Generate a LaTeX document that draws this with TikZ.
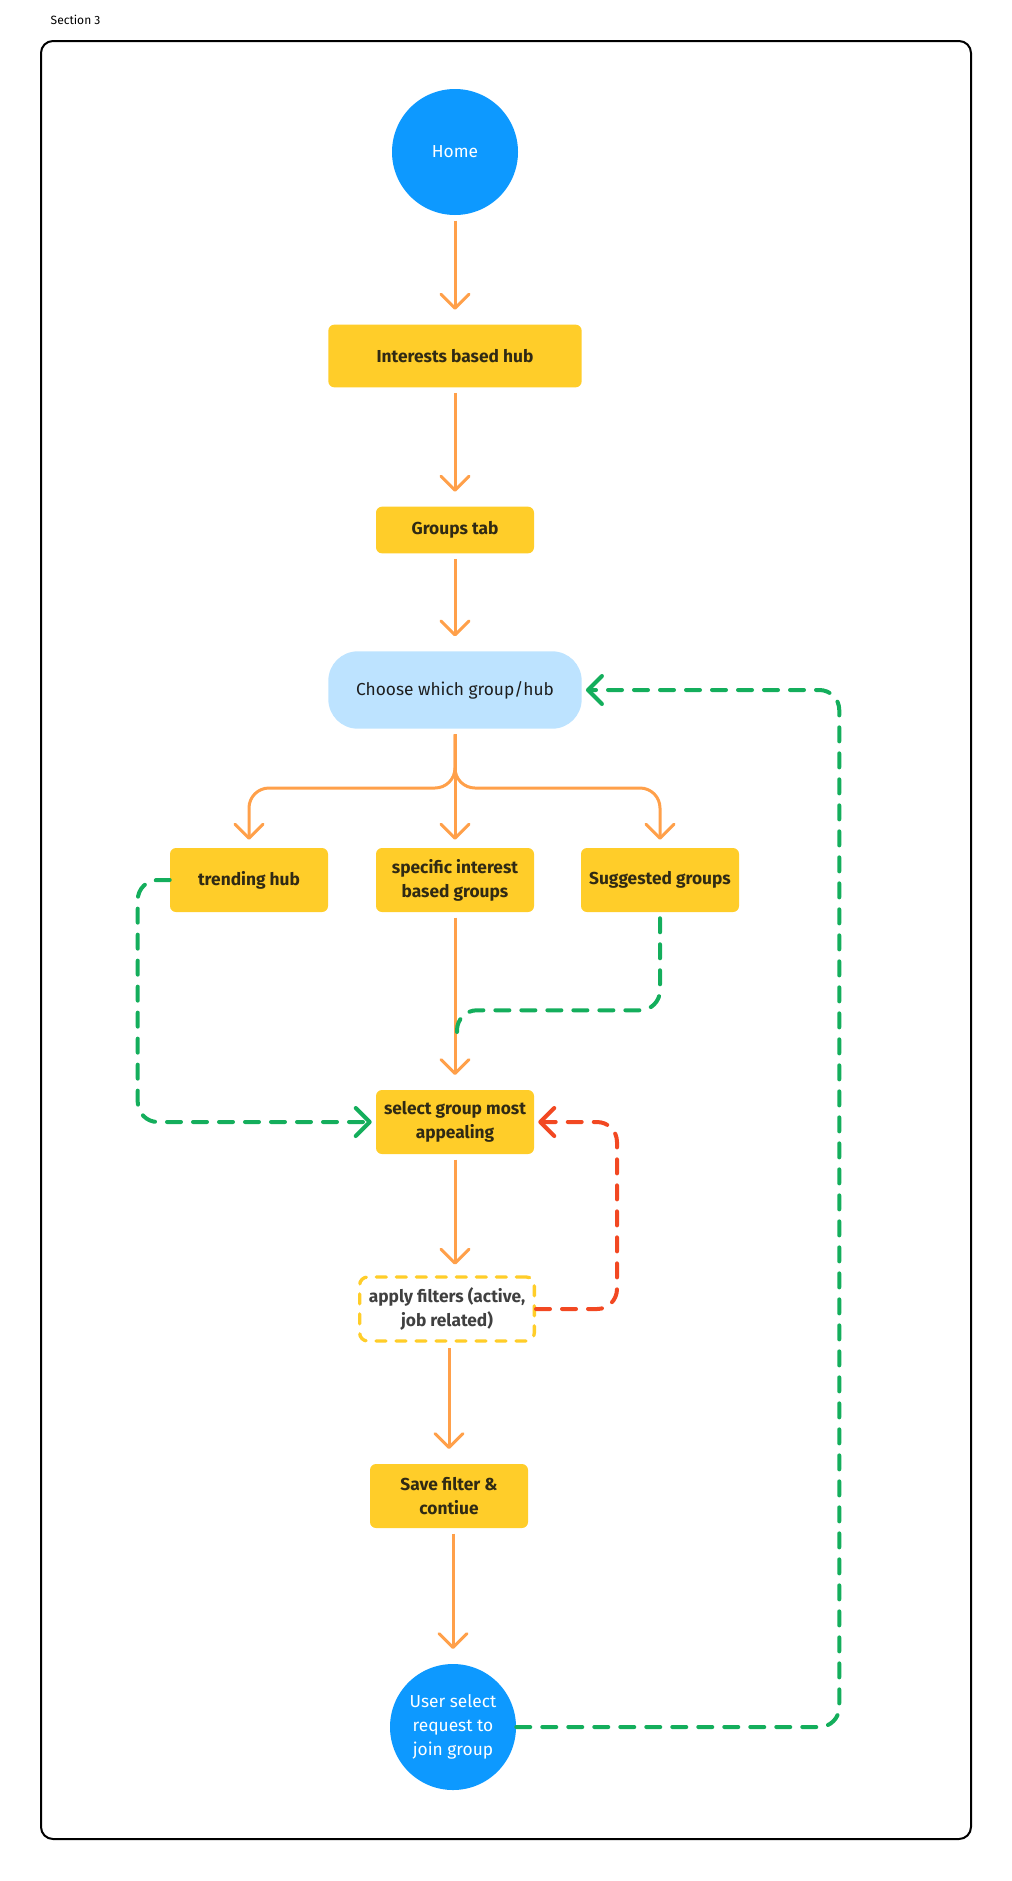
\documentclass[tikz,border=0pt]{standalone}
\usepackage{fontspec}
\setmainfont{Fira Sans}
\usetikzlibrary{arrows.meta}
\definecolor{figblue}{HTML}{0D99FF}
\definecolor{paleblue}{HTML}{BDE3FF}
\definecolor{hubyellow}{HTML}{FFCD29}
\definecolor{flowor}{HTML}{FFA04A}
\definecolor{loopgreen}{HTML}{14AE5C}
\definecolor{backred}{HTML}{F24822}
\definecolor{boxtext}{HTML}{302A14}
\definecolor{darktext}{HTML}{1E1E1E}
\begin{document}
\begin{tikzpicture}[x=0.75pt,y=-0.75pt,
    every node/.style={align=center, font=\fontsize{13}{18}\selectfont},
    endpoint/.style={circle, fill=figblue, text=white, minimum size=94.5pt, inner sep=0pt},
    stepbox/.style={fill=hubyellow, rounded corners=4.5pt, text=boxtext, minimum width=118.5pt, minimum height=48pt, inner sep=2pt, font=\fontsize{13}{18}\selectfont\bfseries},
    choicebox/.style={fill=paleblue, rounded corners=22pt, text=darktext, minimum width=190pt, minimum height=58pt},
    filterbox/.style={draw=hubyellow, line width=2.5pt, dash pattern=on 7.5pt off 7.5pt, line cap=round, rounded corners=6pt, fill=white, text=darktext!85, minimum width=131pt, minimum height=48pt, inner sep=2pt, font=\fontsize{13}{18}\selectfont\bfseries},
    tip/.style={-{Straight Barb[length=10.5pt,width=21pt,round]}},
    flow/.style={tip, draw=flowor, line width=2.25pt, shorten <=4pt, shorten >=11pt},
    gdash/.style={tip, draw=loopgreen, line width=3pt, dash pattern=on 10.5pt off 9pt, line cap=round, rounded corners=15pt},
    rdash/.style={tip, draw=backred, line width=3pt, dash pattern=on 10.5pt off 9pt, line cap=round, rounded corners=15pt}
]
\useasboundingbox (0,0) rectangle (1012,1881);
\node[anchor=west, font=\fontsize{9}{11}\selectfont] (title) at (46,20) {Section 3};
\draw[line width=1.5pt, rounded corners=9pt] (41,41) rectangle (971,1839);

\node[endpoint] (home) at (455,152) {Home};
\node[stepbox, minimum width=190pt, minimum height=47pt] (hub) at (455,356) {Interests based hub};
\node[stepbox, minimum height=35pt] (grp) at (455,530) {Groups tab};
\node[choicebox] (choose) at (455,690) {Choose which group/hub};
\node[stepbox] (trend) at (249,880) {trending hub};
\node[stepbox] (spec) at (455,880) {specific interest\\based groups};
\node[stepbox] (sugg) at (660,880) {Suggested groups};
\node[stepbox] (select) at (455,1122) {select group most\\appealing};
\node[filterbox] (apply) at (447,1309) {apply filters (active,\\job related)};
\node[stepbox] (save) at (449,1496) {Save filter \&\\contiue};
\node[endpoint] (user) at (453,1727) {User select\\request to\\join group};

\coordinate (fork) at (455,788);
\coordinate (merge) at (457,1032);

\draw[flow] (home) -- (hub);
\draw[flow] (hub) -- (grp);
\draw[flow] (grp) -- (choose);
\draw[flow, shorten >=6pt] (choose) -- (spec);
\draw[flow, shorten >=6pt, rounded corners=15pt] (choose.south) -- (fork) -| (trend.north);
\draw[flow, shorten >=6pt, rounded corners=15pt] (choose.south) -- (fork) -| (sugg.north);
\draw[flow] (spec) -- (select);
\draw[flow, shorten >=8pt] (select.south) -- (select.south |- apply.north);
\draw[flow] (apply.south -| save.north) -- (save);
\draw[flow] (user.north |- save.south) -- (user);

\draw[gdash, shorten >=3pt] (trend.west) -- ++(-32,0) |- (select.west);
\draw[gdash, -] (sugg.south) ++(0,6) -- ++(0,92) -| (merge);
\draw[rdash, shorten >=3pt] (apply.east) -- ++(81,0) |- (select.east);
\draw[gdash, shorten >=3pt] (user.east) -- ++(323,0) |- (choose.east);
\end{tikzpicture}
\end{document}
